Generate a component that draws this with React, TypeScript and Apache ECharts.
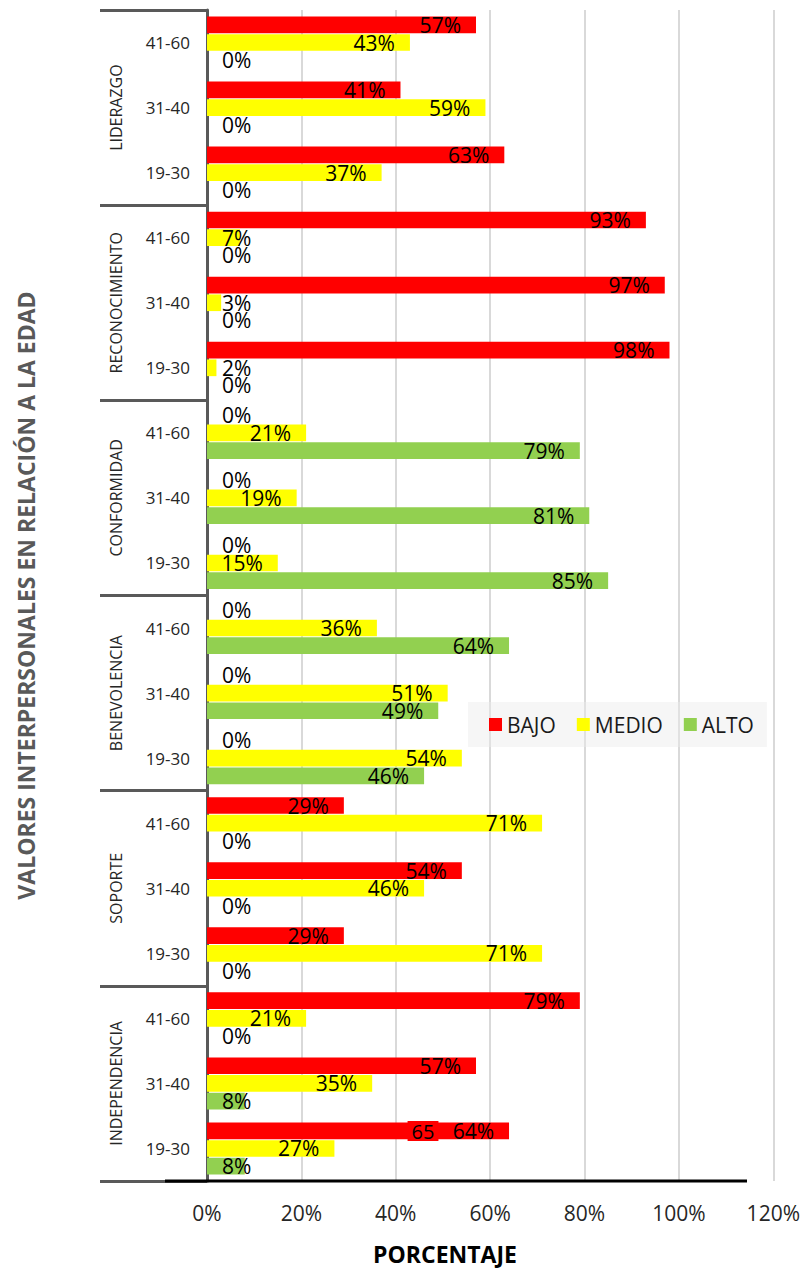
import React, { useEffect, useRef } from 'react';
import * as echarts from 'echarts';

const groups = ['LIDERAZGO', 'RECONOCIMIENTO', 'CONFORMIDAD', 'BENEVOLENCIA', 'SOPORTE', 'INDEPENDENCIA'];
const ages = ['41-60', '31-40', '19-30'];
const seriesNames = ['BAJO', 'MEDIO', 'ALTO'];
const seriesColors = ['#ff0000', '#ffff00', '#92d050'];

// order: top to bottom
const bajo = [57, 41, 63, 93, 97, 98, 0, 0, 0, 0, 0, 0, 29, 54, 29, 79, 57, 64];
const medio = [43, 59, 37, 7, 3, 2, 21, 19, 15, 36, 51, 54, 71, 46, 71, 21, 35, 27];
const alto = [0, 0, 0, 0, 0, 0, 79, 81, 85, 64, 49, 46, 0, 0, 0, 0, 8, 8];

const xMin = 0;
const xMax = 120;
const xInterval = 20;

const FONT = '"Open Sans", "Noto Sans", sans-serif';

export default function App() {
  const ref = useRef<HTMLDivElement>(null);

  useEffect(() => {
    if (!ref.current) return;
    const chart = echarts.init(ref.current, undefined, { renderer: 'svg', width: 803, height: 1269 });
    const categories = groups.flatMap((g) => ages.map((a) => g + '|' + a));
    const allValues = [bajo, medio, alto];

    const makeData = (vals: number[]) =>
      vals.map((v) => ({
        value: v,
        label:
          v < 15
            ? { position: 'insideLeft', distance: 15 }
            : { position: 'insideRight', distance: 15 },
      }));

    chart.setOption({
      animation: false,
      textStyle: { fontFamily: FONT },
      grid: { left: 207, width: 567, top: 10, height: 1171, containLabel: false },
      legend: {
        data: seriesNames,
        left: 468,
        top: 702,
        padding: [12, 13, 12, 21],
        itemGap: 21,
        itemWidth: 13,
        itemHeight: 13,
        icon: 'rect',
        backgroundColor: 'rgba(236,236,236,0.45)',
        textStyle: { fontSize: 21, color: '#1a1a1a', fontFamily: FONT },
      },
      xAxis: {
        type: 'value',
        min: xMin,
        max: xMax,
        interval: xInterval,
        axisLine: { show: false },
        axisTick: { show: false },
        axisLabel: { formatter: '{value}%', fontSize: 21, margin: 21, color: '#262626', fontFamily: FONT },
        splitLine: { show: true, lineStyle: { color: '#d9d9d9', width: 2 } },
      },
      yAxis: [
        {
          type: 'category',
          data: categories,
          inverse: true,
          position: 'left',
          axisLine: { show: true, lineStyle: { color: '#595959', width: 3 } },
          axisTick: { show: false },
          axisLabel: {
            interval: 0,
            formatter: (v: string) => v.split('|')[1],
            fontSize: 17,
            margin: 17,
            color: '#262626',
            fontFamily: FONT,
          },
          splitLine: { show: false },
          name: 'VALORES INTERPERSONALES EN RELACIÓN A LA EDAD',
          nameLocation: 'middle',
          nameGap: 170,
          nameTextStyle: { fontSize: 23, fontWeight: 'bold', color: '#595959', fontFamily: FONT },
        },
        {
          type: 'category',
          data: groups,
          inverse: true,
          position: 'left',
          axisLine: { show: false },
          axisTick: { show: true, interval: 0, length: 107, lineStyle: { color: '#595959', width: 3 } },
          axisLabel: { interval: 0, rotate: 90, margin: 83, fontSize: 16, color: '#262626', fontFamily: FONT },
          splitLine: { show: false },
        },
      ],
      series: seriesNames.map((name, i) => ({
        name,
        type: 'bar',
        yAxisIndex: 0,
        barGap: '6%',
        barCategoryGap: '20%',
        itemStyle: { color: seriesColors[i] },
        label: { show: true, formatter: '{c}%', fontSize: 21, color: '#000', fontFamily: FONT },
        data: makeData(allValues[i]),
      })),
      graphic: [
        {
          type: 'line',
          shape: { x1: 165, y1: 1181, x2: 747, y2: 1181 },
          style: { stroke: '#000', lineWidth: 3 },
          z: 10,
        },
        {
          type: 'text',
          x: 423,
          y: 1131,
          z: 10,
          style: {
            text: '65',
            align: 'center',
            verticalAlign: 'middle',
            fontSize: 20,
            fontFamily: FONT,
            fill: '#000',
            backgroundColor: '#ff0000',
            padding: [0, 4, 0, 4],
          },
        },
        {
          type: 'text',
          x: 445,
          y: 1254,
          z: 10,
          style: {
            text: 'PORCENTAJE',
            align: 'center',
            verticalAlign: 'middle',
            fontSize: 23,
            fontWeight: 'bold',
            fontFamily: FONT,
            fill: '#000',
          },
        },
      ],
    });

    return () => chart.dispose();
  }, []);

  return (
    <div
      ref={ref}
      style={{ position: 'fixed', left: 0, top: 0, width: 803, height: 1269, background: '#fff' }}
    />
  );
}
